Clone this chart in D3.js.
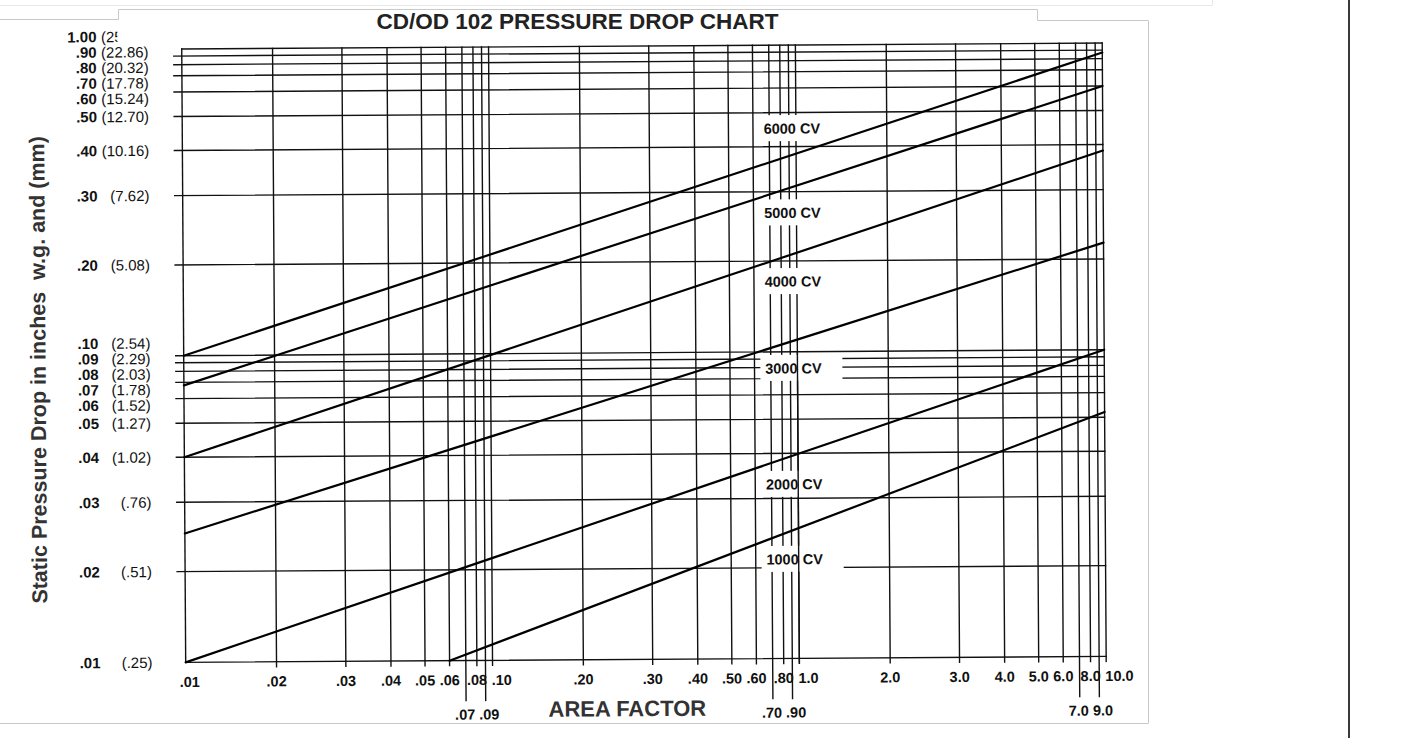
<!DOCTYPE html>
<html>
<head>
<meta charset="utf-8">
<script src="https://cdn.jsdelivr.net/npm/d3@7"></script>
<style>
  html, body { margin: 0; padding: 0; background: #fff; }
  svg { display: block; }
  text { font-family: "Liberation Sans", Arial, Helvetica, sans-serif; }
</style>
</head>
<body>
<svg id="chart" width="1418" height="738"></svg>
<script>
// ---- Area factor rulings (x axis) ----
const areaTicks = [0.01, 0.02, 0.03, 0.04, 0.05, 0.06, 0.07, 0.08, 0.09,
                   0.1, 0.2, 0.3, 0.4, 0.5, 0.6, 0.7, 0.8, 0.9,
                   1, 2, 3, 4, 5, 6, 7, 8, 9, 10];
const areaLabels = [".01", ".02", ".03", ".04", ".05", ".06", ".07", ".08", ".09",
                    ".10", ".20", ".30", ".40", ".50", ".60", ".70", ".80", ".90",
                    "1.0", "2.0", "3.0", "4.0", "5.0", "6.0", "7.0", "8.0", "9.0", "10.0"];
// rulings whose label sits on the second row
const areaSecondRow = [0.07, 0.09, 0.7, 0.9, 7, 9];

// ---- Static pressure rulings (y axis), inches w.g. and mm ----
const pressureTicks = [0.01, 0.02, 0.03, 0.04, 0.05, 0.06, 0.07, 0.08, 0.09,
                       0.1, 0.2, 0.3, 0.4, 0.5, 0.6, 0.7, 0.8, 0.9, 1];
const pressureInches = [".01", ".02", ".03", ".04", ".05", ".06", ".07", ".08", ".09",
                        ".10", ".20", ".30", ".40", ".50", ".60", ".70", ".80", ".90", "1.00"];
const pressureMm = ["(.25)", "(.51)", "(.76)", "(1.02)", "(1.27)", "(1.52)", "(1.78)", "(2.03)", "(2.29)",
                    "(2.54)", "(5.08)", "(7.62)", "(10.16)", "(12.70)", "(15.24)", "(17.78)", "(20.32)", "(22.86)", "(25.40)"];

// ---- CV lines: start and end points (area factor, pressure drop) ----
const cvNames = ["6000 CV", "5000 CV", "4000 CV", "3000 CV", "2000 CV", "1000 CV"];
const cvFrom  = [[0.01, 0.10], [0.01, 0.068], [0.01, 0.04], [0.01, 0.025], [0.01, 0.01], [0.06, 0.01]];
const cvTo    = [[10, 0.87],   [10, 0.60],    [10, 0.385],  [10, 0.22],    [10, 0.10],   [10, 0.052]];
// where each CV caption is set (area factor, pressure drop)
const cvLabelArea = 0.9;
const cvLabelPressure = [0.45, 0.265, 0.171, 0.079, 0.0328, 0.021];

// ---- layout ----
const W = 1418, H = 738;
const L = 183.7, R = 1104.2, T = 46, B = 659.4;
const cx = (L + R) / 2, cy = (T + B) / 2;
const tilt = -0.37;              // the sheet sits slightly skewed

// Where the 1..10 rulings fall inside one decade of this chart paper
const decadeRuling = [0, 0.296, 0.522, 0.669, 0.780, 0.860, 0.913, 0.949, 0.977, 1];

function paperScale(lo, decades, r0, r1) {
  const dom = [], pos = [];
  for (let d = 0; d < decades; d++) {
    for (let n = 1; n <= 9; n++) {
      dom.push(+(n * lo * Math.pow(10, d)).toPrecision(4));
      pos.push(d + decadeRuling[n - 1]);
    }
  }
  dom.push(+(lo * Math.pow(10, decades)).toPrecision(4));
  pos.push(decades);
  return d3.scaleLog().domain(dom).range(pos.map(p => r0 + (r1 - r0) * p / decades));
}

const x = paperScale(0.01, 3, L, R);
const y = paperScale(0.01, 2, B, T);

const svg = d3.select("#chart");

// page frame around the sheet
svg.append("path")
  .attr("d", "M0,5.5 H1212.5 V0")
  .attr("fill", "none").attr("stroke", "#e8e8e8").attr("stroke-width", 1);
svg.append("path")
  .attr("d", "M0,19.5 H118.5 V9.5 H1037.5 V20.5 H1148.5 V723.5 H0")
  .attr("fill", "none").attr("stroke", "#c9c9c9").attr("stroke-width", 1);
svg.append("line")
  .attr("x1", 1349).attr("x2", 1349).attr("y1", 0).attr("y2", H)
  .attr("stroke", "#3a3a3a").attr("stroke-width", 2);

// title
svg.append("text")
  .attr("x", 577.5).attr("y", 28.5)
  .attr("text-anchor", "middle")
  .attr("font-size", 22.5).attr("font-weight", "bold").attr("fill", "#222")
  .text("CD/OD 102 PRESSURE DROP CHART");

const sheet = svg.append("g").attr("transform", `rotate(${tilt} ${cx} ${cy})`);

// ---- grid ----
const ink = "#111";
const grid = sheet.append("g").attr("stroke", ink).attr("stroke-width", 1.4).attr("stroke-linecap", "square");

grid.selectAll("line.h").data(pressureTicks).join("line")
  .attr("class", "h")
  .attr("x1", d => (d === 0.01 || d === 1) ? L : L - 8)
  .attr("x2", R)
  .attr("y1", d => y(d)).attr("y2", d => y(d));

grid.selectAll("line.v").data(areaTicks).join("line")
  .attr("class", "v")
  .attr("x1", d => x(d)).attr("x2", d => x(d))
  .attr("y1", T)
  .attr("y2", d => d === 0.01 ? B : (areaSecondRow.includes(d) ? B + 40 : B + 5));

// white panels behind the CV captions
sheet.append("g").attr("fill", "#fff")
  .selectAll("rect").data(cvLabelPressure).join("rect")
  .attr("x", x(cvLabelArea) - 30)
  .attr("width", 82)
  .attr("y", d => y(d) - 13.5)
  .attr("height", 26);

// the 1.0 ruling runs through the lower captions
sheet.append("line")
  .attr("x1", x(1)).attr("x2", x(1))
  .attr("y1", y(0.1)).attr("y2", B + 5)
  .attr("stroke", ink).attr("stroke-width", 1.4);

// ---- CV lines ----
sheet.append("g").attr("stroke", "#000").attr("stroke-width", 2.2).attr("stroke-linecap", "round")
  .selectAll("line").data(cvNames).join("line")
  .attr("x1", (d, i) => x(cvFrom[i][0])).attr("y1", (d, i) => y(cvFrom[i][1]))
  .attr("x2", (d, i) => x(cvTo[i][0])).attr("y2", (d, i) => y(cvTo[i][1]));

sheet.append("g")
  .attr("font-size", 14.5).attr("font-weight", "bold").attr("fill", "#111")
  .attr("text-anchor", "middle")
  .selectAll("text").data(cvNames).join("text")
  .attr("x", x(cvLabelArea) + 3)
  .attr("y", (d, i) => y(cvLabelPressure[i]))
  .attr("dy", "0.35em")
  .text(d => d);

// ---- y axis labels, spread apart where rulings crowd together ----
function spreadLabels(targets, gap) {
  let clusters = targets.map(t => ({ members: [t], sum: t.pos, n: 1, top: t.pos }));
  let merged = true;
  while (merged) {
    merged = false;
    for (let i = 0; i < clusters.length - 1; i++) {
      const a = clusters[i], b = clusters[i + 1];
      if (a.top + a.n * gap > b.top + 0.001) {
        const c = { members: a.members.concat(b.members), sum: a.sum + b.sum, n: a.n + b.n };
        c.top = c.sum / c.n - (c.n - 1) * gap / 2;
        clusters.splice(i, 2, c);
        merged = true;
        break;
      }
    }
  }
  clusters.forEach(c => c.members.forEach((m, k) => { m.labelPos = c.top + k * gap; }));
}

const yLabelItems = pressureTicks.map((v, i) => ({ v, i, pos: y(v) }))
  .sort((a, b) => a.pos - b.pos);
spreadLabels(yLabelItems, 15.5);

sheet.append("defs").append("clipPath").attr("id", "sheetEdge")
  .append("rect").attr("x", 0).attr("y", 0).attr("width", 119.5).attr("height", H);

const yLab = sheet.append("g").attr("font-size", 15).attr("fill", "#111");
const rows = yLab.selectAll("g").data(yLabelItems).join("g")
  .attr("clip-path", d => d.v === 1 ? "url(#sheetEdge)" : null);
rows.append("text")
  .attr("x", L - 85.2).attr("y", d => d.labelPos).attr("dy", "0.35em")
  .attr("text-anchor", "end").attr("font-weight", "bold")
  .text(d => pressureInches[d.i]);
rows.append("text")
  .attr("x", L - 33.2).attr("y", d => d.labelPos).attr("dy", "0.35em")
  .attr("text-anchor", "end")
  .text(d => pressureMm[d.i]);

// ---- x axis labels ----
const decadeEnds = [0.1, 1, 10];
sheet.append("g").attr("font-size", 14.5).attr("font-weight", "bold").attr("fill", "#111")
  .selectAll("text").data(areaTicks).join("text")
  .attr("x", d => {
    if (d === 0.01) return x(d) + 4;
    if (decadeEnds.includes(d)) return x(d) - 1;
    const k = areaSecondRow.indexOf(d);
    if (k >= 0) return x(d) + (k % 2 ? 3.5 : -1);
    return x(d);
  })
  .attr("y", d => areaSecondRow.includes(d) ? B + 54 : B + 19.5)
  .attr("dy", "0.35em")
  .attr("text-anchor", d => decadeEnds.includes(d) ? "start" : "middle")
  .text((d, i) => areaLabels[i]);

// ---- axis titles ----
sheet.append("text")
  .attr("x", 625).attr("y", B + 49).attr("dy", "0.35em")
  .attr("text-anchor", "middle")
  .attr("font-size", 22).attr("font-weight", "bold").attr("fill", "#333")
  .text("AREA FACTOR");

sheet.append("text")
  .attr("transform", "translate(38,366) rotate(-90)")
  .attr("dy", "0.35em")
  .attr("text-anchor", "middle")
  .attr("font-size", 21.5).attr("font-weight", "bold").attr("fill", "#333")
  .attr("xml:space", "preserve")
  .style("white-space", "pre")
  .text("Static Pressure Drop in inches  w.g. and (mm)");
</script>
</body>
</html>
